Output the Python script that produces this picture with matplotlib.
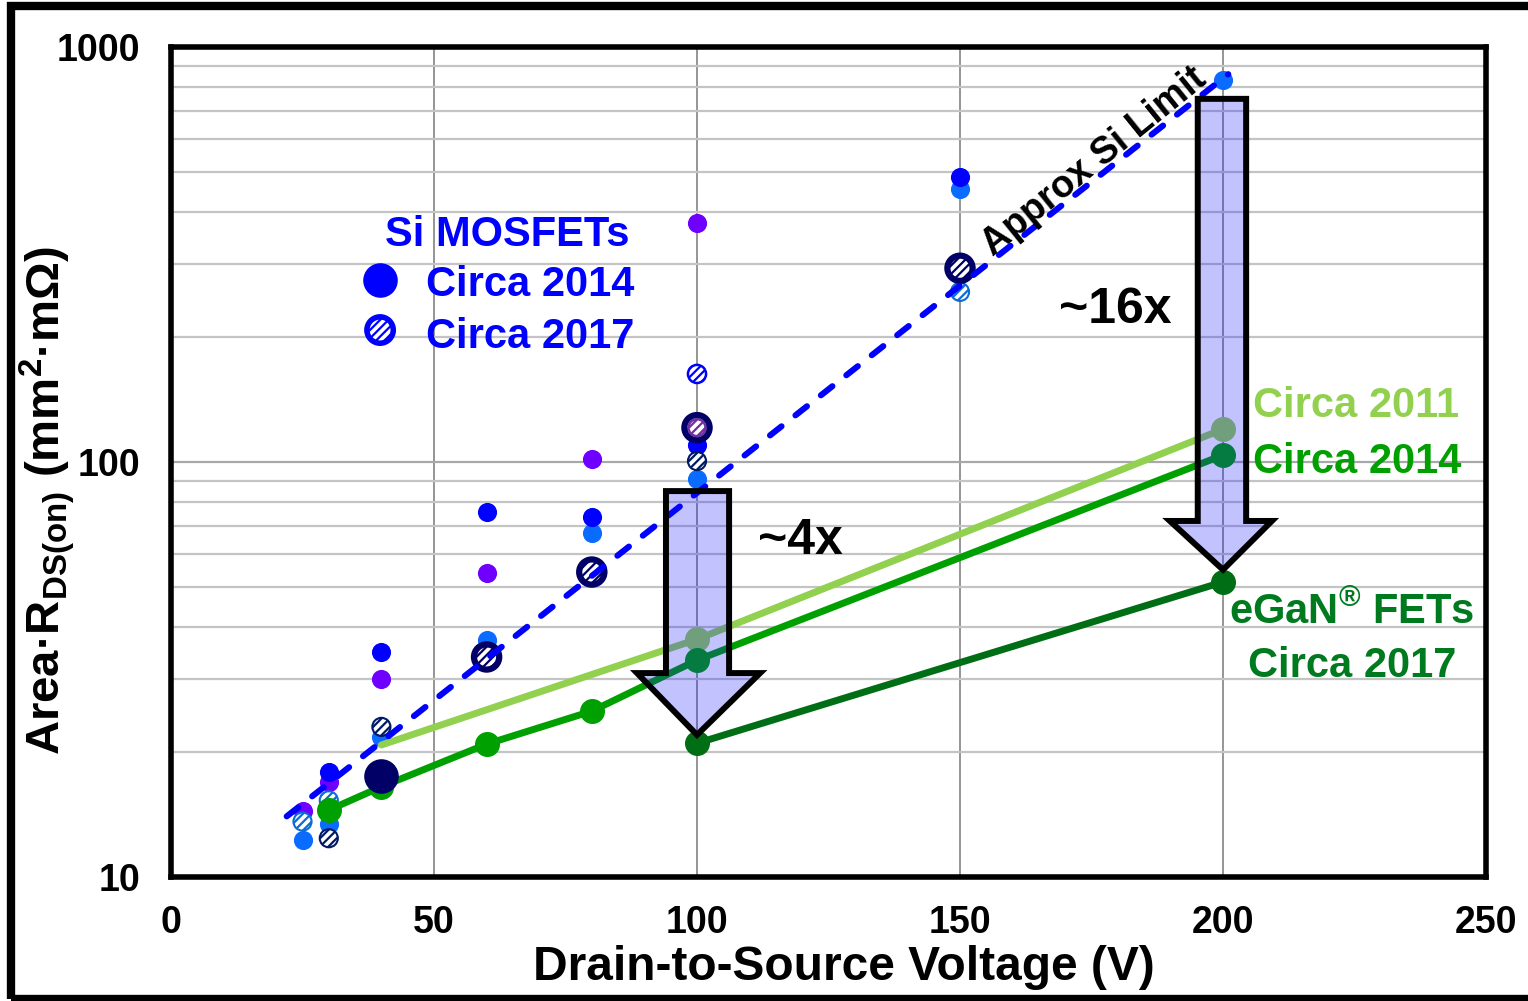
import matplotlib
matplotlib.use("Agg")
import matplotlib.pyplot as plt
from matplotlib.patches import Polygon, Rectangle
import numpy as np

plt.rcParams['font.family'] = ['Liberation Sans', 'DejaVu Sans']
plt.rcParams['font.weight'] = 'bold'
plt.rcParams['mathtext.fontset'] = 'custom'
plt.rcParams['mathtext.rm'] = 'Liberation Sans:bold'
plt.rcParams['mathtext.bf'] = 'Liberation Sans:bold'
plt.rcParams['mathtext.it'] = 'Liberation Sans:bold'
plt.rcParams['hatch.linewidth'] = 1.6

# ---------------- data ----------------
x_ticks = [0, 50, 100, 150, 200, 250]
y_ticks = [10, 100, 1000]

# Si MOSFETs circa 2014 (solid dots, three colour groups)
si14_blue_v = [30, 40, 60, 80, 100, 150]
si14_blue_r = [17.9, 34.8, 75.8, 73.7, 110, 486]
si14_purple_v = [25, 30, 40, 60, 80, 100]
si14_purple_r = [14.4, 16.9, 30.0, 54.0, 101.7, 376]
si14_lblue_v = [25, 30, 40, 60, 80, 100, 150, 200]
si14_lblue_r = [12.3, 13.4, 21.7, 37.2, 67.5, 91, 456, 834]
si14_navy_v = [40]
si14_navy_r = [17.5]

# Si MOSFETs circa 2017 (hatched)
si17_big_v = [60, 80, 100, 150]
si17_big_r = [33.9, 54.3, 121, 293]
si17_navy_v = [30, 40, 100]
si17_navy_r = [12.4, 23.0, 100.5]
si17_blue_v = [100]
si17_blue_r = [163]
si17_lblue_v = [25, 30, 150]
si17_lblue_r = [13.6, 15.3, 257]
si17_purple_v = [100]
si17_purple_r = [121]

# approximate Si limit
si_limit_v = [22, 201]
si_limit_r = [14.0, 860]

# eGaN FETs
gan11_v = [40, 100, 200]
gan11_r = [20.8, 37.4, 120]
gan14_v = [30, 40, 60, 80, 100, 200]
gan14_r = [14.5, 16.5, 20.9, 25.1, 33.3, 103.9]
gan17_v = [100, 200]
gan17_r = [21.0, 51.4]

# block arrows (outline in data units)
arrow4_x = [94.1, 106.1, 106.1, 112.0, 100.0, 88.6, 94.1]
arrow4_y = [85.1, 85.1, 31.0, 31.0, 22.0, 31.0, 31.0]
arrow16_x = [195.2, 204.4, 204.4, 209.3, 200.0, 189.9, 195.2]
arrow16_y = [750, 750, 72.1, 72.1, 55.0, 72.1, 72.1]

# ---------------- figure ----------------
fig = plt.figure(figsize=(15.28, 10.01), dpi=100)
ax = fig.add_axes([171/1528, 1-877/1001, (1486-171)/1528, (877-47)/1001])
ax.set_yscale('log')
ax.set_xlim(0, 250)
ax.set_ylim(10, 1000)
ax.set_xticks(x_ticks)
ax.set_xticklabels([str(t) for t in x_ticks])
ax.set_yticks(y_ticks)
ax.set_yticklabels([str(t) for t in y_ticks])
ax.tick_params(axis='both', which='both', length=0, labelsize=27)
ax.tick_params(axis='y', pad=22)
ax.tick_params(axis='x', pad=20)
for lab in ax.get_xticklabels() + ax.get_yticklabels():
    lab.set_fontweight('bold')
ax.yaxis.set_minor_locator(matplotlib.ticker.LogLocator(base=10, subs=np.arange(2, 10)))
ax.yaxis.set_minor_formatter(matplotlib.ticker.NullFormatter())
ax.grid(True, axis='y', which='minor', color='#c4c4c4', lw=1.6, zorder=0)
ax.grid(True, axis='y', which='major', color='#a8a8a8', lw=1.6, zorder=0)
ax.grid(True, axis='x', which='major', color='#8c8c8c', lw=1.3, zorder=0)
ax.set_axisbelow(True)
for s in ax.spines.values():
    s.set_linewidth(4)
    s.set_color('black')

S = 190
# circa 2014 solid dots
ax.scatter(si14_lblue_v, si14_lblue_r, s=S, color='#0a6cff', zorder=3, linewidths=0)
ax.scatter(si14_purple_v, si14_purple_r, s=S, color='#6f00ff', zorder=3, linewidths=0)
ax.scatter(si14_blue_v, si14_blue_r, s=S, color='#0000ff', zorder=3, linewidths=0)

# circa 2017 hatched
ax.scatter(si17_lblue_v, si17_lblue_r, s=170, facecolor='white', edgecolor='#0a6cd8',
           linewidths=1.5, hatch='////', zorder=3.2)
ax.scatter(si17_navy_v, si17_navy_r, s=170, facecolor='white', edgecolor='#001a66',
           linewidths=1.5, hatch='////', zorder=3.2)
ax.scatter(si17_blue_v, si17_blue_r, s=170, facecolor='white', edgecolor='#0000ff',
           linewidths=1.8, hatch='////', zorder=3.2)
ax.scatter(si17_big_v, si17_big_r, s=330, facecolor='white', edgecolor='#000066',
           linewidths=4.5, hatch='////', zorder=3.4)
ax.scatter(si17_purple_v, si17_purple_r, s=150, facecolor='white', edgecolor='#7030a0',
           linewidths=1.8, hatch='////', zorder=3.5)

# GaN lines
ax.plot(gan11_v, gan11_r, color='#92d050', lw=5, marker='o', ms=17, markevery=[1, 2],
        solid_capstyle='round', zorder=3.1)
ax.plot(gan14_v, gan14_r, color='#00a000', lw=5, marker='o', ms=17,
        solid_capstyle='round', zorder=3.3)
ax.plot(gan17_v, gan17_r, color='#006e14', lw=5, marker='o', ms=17,
        solid_capstyle='round', zorder=4)
ax.scatter(si14_navy_v, si14_navy_r, s=620, color='#000066', zorder=3.4, linewidths=0)

# Si limit dashed line
ax.plot(si_limit_v, si_limit_r, color='#0000ff', lw=4.4, linestyle=(0, (2.4, 2.9)),
        dash_capstyle='round', zorder=5)

# arrows
for axs, ays in [(arrow4_x, arrow4_y), (arrow16_x, arrow16_y)]:
    poly = Polygon(np.column_stack([axs, ays]), closed=True,
                   facecolor=(0.08, 0.08, 1.0, 0.26), edgecolor='black',
                   lw=4.3, joinstyle='miter', zorder=6)
    ax.add_patch(poly)

# annotations
ax.text(179.5, 233, '~16x', fontsize=36, fontweight='bold', ha='center', va='center', zorder=7)
ax.text(119.6, 64.5, '~4x', fontsize=36, fontweight='bold', ha='center', va='center', zorder=7)
ax.text(175.5, 530, 'Approx Si Limit', fontsize=27, fontweight='bold', ha='center',
        va='center', rotation=39, rotation_mode='anchor', zorder=7)
ax.text(205.7, 136.5, 'Circa 2011', fontsize=30, fontweight='bold', color='#92d050',
        ha='left', va='center', zorder=7)
ax.text(205.7, 100.0, 'Circa 2014', fontsize=30, fontweight='bold', color='#00a000',
        ha='left', va='center', zorder=7)
ax.text(224.5, 43.3, 'eGaN$^{®}$ FETs', fontsize=30, fontweight='bold', color='#007a1e',
        ha='center', va='center', zorder=7)
ax.text(224.5, 32.3, 'Circa 2017', fontsize=30, fontweight='bold', color='#007a1e',
        ha='center', va='center', zorder=7)

# legend (Si MOSFETs)
ax.text(0.2555, 0.773, 'Si MOSFETs', transform=ax.transAxes, fontsize=30,
        fontweight='bold', color='#0000ff', ha='center', va='center', zorder=7)
ax.scatter([0.159], [0.719], transform=ax.transAxes, s=620, color='#0000ff',
           zorder=7, linewidths=0, clip_on=False)
ax.scatter([0.159], [0.659], transform=ax.transAxes, s=360, facecolor='white',
           edgecolor='#0000ff', linewidths=4.0, hatch='////', zorder=7, clip_on=False)
ax.text(0.194, 0.713, 'Circa 2014', transform=ax.transAxes, fontsize=30,
        fontweight='bold', color='#0000ff', ha='left', va='center', zorder=7)
ax.text(0.194, 0.651, 'Circa 2017', transform=ax.transAxes, fontsize=30,
        fontweight='bold', color='#0000ff', ha='left', va='center', zorder=7)

# axis labels
fig.text(844/1528, 1-967/1001, 'Drain-to-Source Voltage (V)', fontsize=34.5,
         fontweight='bold', ha='center', va='center')
fig.text(47/1528, 0.5, r'Area·R$_{\mathrm{DS(on)}}$ (mm$^{\mathrm{2}}$·mΩ)', fontsize=34,
         fontweight='bold', ha='center', va='center', rotation=90)

# outer frame
fig.patches.append(Rectangle((11/1528, 2/1001), 1.2, 993/1001, transform=fig.transFigure,
                             fill=False, edgecolor='black', lw=6, zorder=10))

fig.savefig('out.png', dpi=100)
